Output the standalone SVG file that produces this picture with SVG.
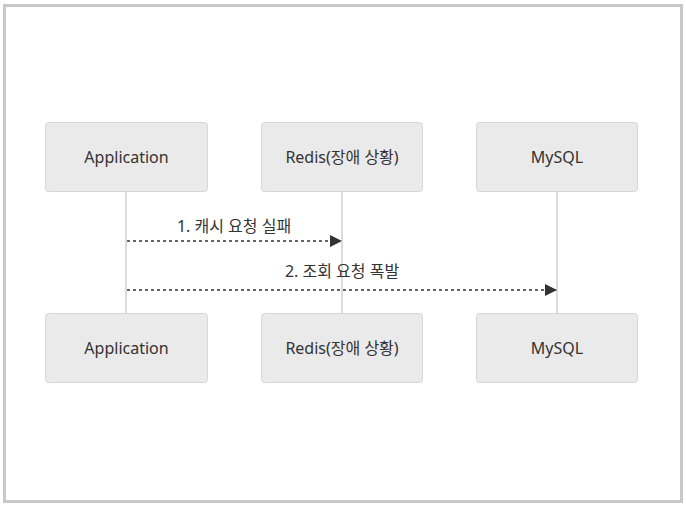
<svg xmlns="http://www.w3.org/2000/svg" width="686" height="509" viewBox="0 0 686 509">
<style>
.box{fill:#eaeaea;stroke:#d6d6d6;stroke-width:1}
.lbl{font-family:"Noto Sans","Noto Sans CJK KR",sans-serif;font-size:16px;fill:#333;text-anchor:middle;dominant-baseline:central}
.msg{font-family:"Noto Sans","Noto Sans CJK KR",sans-serif;font-size:16px;fill:#333;text-anchor:middle}
.life{stroke:#d0d0d0;stroke-width:1.5}
.arr{stroke:#333;stroke-width:1.5;stroke-dasharray:3,3;fill:none}
</style>
<defs>
<marker id="ah" viewBox="0 0 12 12" refX="11" refY="6" markerWidth="12" markerHeight="12" markerUnits="userSpaceOnUse" orient="auto">
<path d="M0,0 L12,6 L0,12 z" fill="#333"/>
</marker>
</defs>
<rect x="4.5" y="5.5" width="677" height="496" fill="#fff" stroke="#c8c8c8" stroke-width="3"/>
<g id="lifelines">
<line class="life" x1="126" y1="191" x2="126" y2="313"/>
<line class="life" x1="342" y1="191" x2="342" y2="313"/>
<line class="life" x1="557" y1="191" x2="557" y2="313"/>
</g>
<g id="app-top"><rect class="box" x="45.5" y="122.5" width="162" height="69" rx="3"/><text class="lbl" x="126.5" y="157">Application</text></g>
<g id="redis-top"><rect class="box" x="261.5" y="122.5" width="161" height="69" rx="3"/><text class="lbl" x="342" y="157">Redis(장애 상황)</text></g>
<g id="mysql-top"><rect class="box" x="476.5" y="122.5" width="161" height="69" rx="3"/><text class="lbl" x="557" y="157">MySQL</text></g>
<g id="app-bottom"><rect class="box" x="45.5" y="313.5" width="162" height="69" rx="3"/><text class="lbl" x="126.5" y="348">Application</text></g>
<g id="redis-bottom"><rect class="box" x="261.5" y="313.5" width="161" height="69" rx="3"/><text class="lbl" x="342" y="348">Redis(장애 상황)</text></g>
<g id="mysql-bottom"><rect class="box" x="476.5" y="313.5" width="161" height="69" rx="3"/><text class="lbl" x="557" y="348">MySQL</text></g>
<g id="connectors">
<line class="arr" x1="127" y1="241" x2="341" y2="241" marker-end="url(#ah)"/>
<text class="msg" x="234" y="232">1. 캐시 요청 실패</text>
<line class="arr" x1="127" y1="290" x2="556" y2="290" marker-end="url(#ah)"/>
<text class="msg" x="342" y="277">2. 조회 요청 폭발</text>
</g>
</svg>
